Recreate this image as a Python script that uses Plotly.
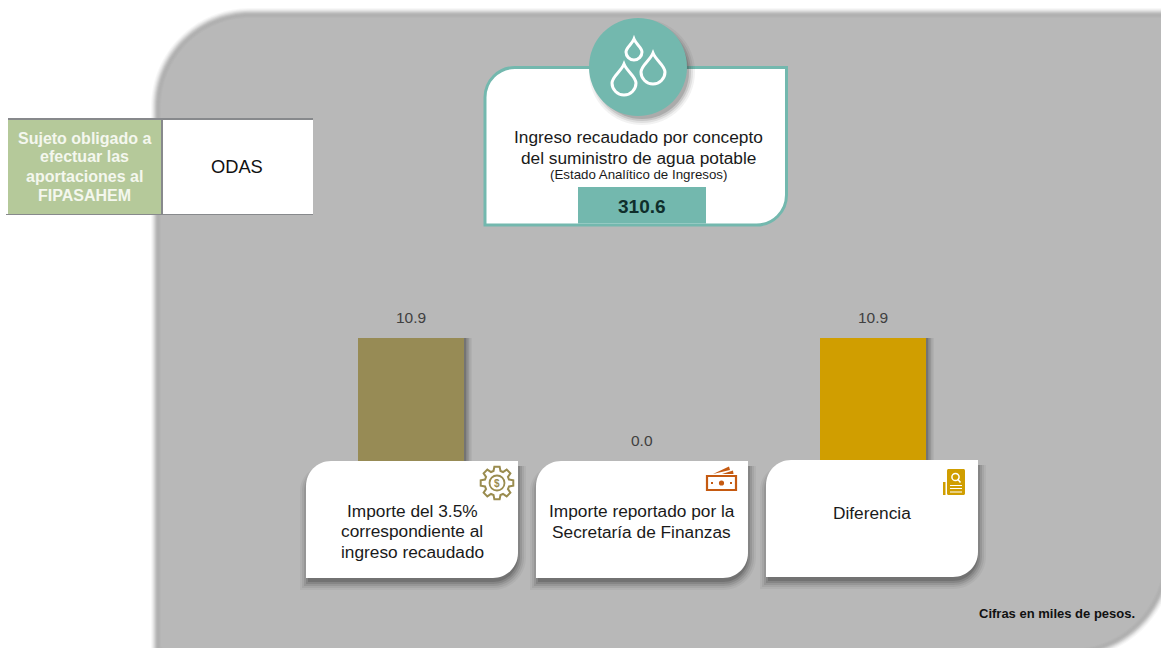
import math
import plotly.graph_objects as go

# ---- data ----
categories = ["Importe", "Reportado", "Diferencia"]
values = [10.9, 0.0, 10.9]
value_labels = ["10.9", "0.0", "10.9"]
bar_colors = ["#978b55", "#978b55", "#d09e00"]
card_labels = [["Importe del 3.5%", "correspondiente al", "ingreso recaudado"],
               ["Importe reportado por la", "Secretaría de Finanzas"],
               ["Diferencia"]]
total_value = "310.6"
total_title = ["Ingreso recaudado por concepto", "del suministro de agua potable"]
total_sub = "(Estado Analítico de Ingresos)"
table_head = ["Sujeto obligado a", "efectuar las", "aportaciones al", "FIPASAHEM"]
table_value = "ODAS"
note = "Cifras en miles de pesos."

W, H = 1161, 648
FONT = "Liberation Sans"
TEAL = "#73b8ae"

def fx(x): return x / W
def fy(y): return 1 - y / H

def path(cmds):
    out = []
    for c in cmds:
        if isinstance(c, str):
            out.append(c)
        else:
            out.append(f"{fx(c[0]):.5f},{fy(c[1]):.5f}")
    return " ".join(out)

def rrect(x0, y0, x1, y1, tl=0, tr=0, br=0, bl=0):
    k = 0.4477
    c = ["M", (x0 + tl, y0), "L", (x1 - tr, y0)]
    if tr: c += ["C", (x1 - tr * k, y0), (x1, y0 + tr * k), (x1, y0 + tr)]
    c += ["L", (x1, y1 - br)]
    if br: c += ["C", (x1, y1 - br * k), (x1 - br * k, y1), (x1 - br, y1)]
    c += ["L", (x0 + bl, y1)]
    if bl: c += ["C", (x0 + bl * k, y1), (x0, y1 - bl * k), (x0, y1 - bl)]
    c += ["L", (x0, y0 + tl)]
    if tl: c += ["C", (x0, y0 + tl * k), (x0 + tl * k, y0), (x0 + tl, y0)]
    c += ["Z"]
    return path(c)

shapes = []
def add_path(d, fill=None, line=None, lw=0, layer="above"):
    s = dict(type="path", xref="paper", yref="paper", path=d, layer=layer,
             line=dict(width=lw, color=line or "rgba(0,0,0,0)"))
    if fill: s["fillcolor"] = fill
    shapes.append(s)

def add_circle(cx, cy, r, fill=None, line=None, lw=0, layer="above"):
    s = dict(type="circle", xref="paper", yref="paper", layer=layer,
             x0=fx(cx - r), x1=fx(cx + r), y0=fy(cy + r), y1=fy(cy - r),
             line=dict(width=lw, color=line or "rgba(0,0,0,0)"))
    if fill: s["fillcolor"] = fill
    shapes.append(s)

def add_rect(x0, y0, x1, y1, fill, layer="above"):
    shapes.append(dict(type="rect", xref="paper", yref="paper", layer=layer,
                       x0=fx(x0), x1=fx(x1), y0=fy(y1), y1=fy(y0),
                       fillcolor=fill, line=dict(width=0)))

# ---- grey panel with soft edge ----
for i, col in zip([4, 3, 2, 1, 0, -1, -2, -3, -4, -5, -6],
                  ["#f8f8f8", "#efefef", "#e3e3e3", "#d5d5d5", "#c6c6c6", "#b9b9b9",
                   "#b2b2b2", "#b0b0b0", "#b2b2b2", "#b5b5b5", "#b8b8b8"]):
    add_path(rrect(155 - i, 12 - i, 1170 + i, 655 + i, tl=95 + i, br=100 + i, bl=4), fill=col, layer="below")

# ---- white cards with shadow ----
cards = [(306, 461, 518, 578), (536, 461, 748, 578), (766, 460, 978, 577)]
for x0, y0, x1, y1 in cards:
    for g, a in zip([8, 6, 4, 2, 0], [0.05, 0.08, 0.11, 0.15, 0.2]):
        add_path(rrect(x0 - g + 2, y0 + 5, x1 + g, y1 + 4 + g, tl=25, br=25 + g),
                 fill=f"rgba(40,40,40,{a})")
    add_path(rrect(x0, y0, x1, y1, tl=25, br=25), fill="#ffffff")

# ---- top card ----
add_path(rrect(485, 67.5, 786.5, 225, tl=30, br=30), fill="#ffffff", line=TEAL, lw=3)
add_rect(578, 187, 706, 223.5, TEAL)
for g, a in zip([6, 4, 2, 0], [0.06, 0.09, 0.13, 0.18]):
    add_circle(642, 72, 47 + g, fill=f"rgba(40,40,40,{a})")
add_circle(638, 67, 49, fill=TEAL)

def drop(cx, tip, cy, r):
    k = 0.5523
    return path(["M", (cx, tip),
                 "C", (cx + r * 0.25, tip + (cy - tip) * 0.4), (cx + r, cy - r * 0.55), (cx + r, cy),
                 "C", (cx + r, cy + r * k), (cx + r * k, cy + r), (cx, cy + r),
                 "C", (cx - r * k, cy + r), (cx - r, cy + r * k), (cx - r, cy),
                 "C", (cx - r, cy - r * 0.55), (cx - r * 0.25, tip + (cy - tip) * 0.4), (cx, tip), "Z"])
for args in [(634, 39, 52, 8), (653, 53, 72, 12), (624, 64, 83, 12)]:
    add_path(drop(*args), line="#ffffff", lw=3)

# ---- table ----
add_rect(8, 120, 161, 214, "#b5c99a")
add_rect(8, 118, 313, 120, "#87898c")
add_rect(6, 214, 313, 215, "#87898c")
add_rect(161, 119, 163, 214, "#87898c")
add_rect(163, 120, 313, 214, "#ffffff")

# ---- gear icon ----
OLIVE = "#9a8c4f"
gx, gy, teeth = 497, 483, 8
pts = []
for i in range(teeth):
    a = 2 * math.pi * i / teeth
    st = 2 * math.pi / teeth
    for da, r in [(-0.30, 12.5), (-0.17, 16.5), (0.17, 16.5), (0.30, 12.5)]:
        ang = a + da * st * 1.2
        pts.append((gx + r * math.cos(ang), gy + r * math.sin(ang)))
g = ["M", pts[0]]
for p in pts[1:]:
    g += ["L", p]
g += ["Z"]
add_path(path(g), line=OLIVE, lw=2)
add_circle(gx, gy, 7.5, line=OLIVE, lw=1.8)

# ---- banknote icon ----
ORANGE = "#c55a11"
add_path(rrect(707, 476, 736, 490), line=ORANGE, lw=2.2)
add_circle(721.5, 483, 2.6, fill=ORANGE)
add_rect(711, 482, 713, 484, ORANGE)
add_rect(730, 482, 732, 484, ORANGE)
add_path(path(["M", (713, 474), "L", (729, 466.5), "L", (730, 470), "Z"]), fill=ORANGE)
add_path(path(["M", (722, 474), "L", (733, 470.5), "L", (733.5, 474), "Z"]), fill=ORANGE)

# ---- document icon ----
GOLD = "#d09e00"
add_path(rrect(947, 469, 965, 495, tl=1.5, tr=1.5, br=1.5, bl=1.5), fill=GOLD)
add_rect(943, 482, 945.5, 495, GOLD)
add_circle(955.5, 477, 3.6, line="#ffffff", lw=1.5)
add_path(path(["M", (958, 479.5), "L", (960.5, 482.5)]), line="#ffffff", lw=1.5)
for yy in (485.5, 488.5, 492):
    add_path(path(["M", (950, yy), "L", (962, yy)]), line="#ffffff", lw=1)

# ---- bars drawn through the axes ----
px_unit = 231.0
bar_w = 106 / px_unit
fig = go.Figure()
for k, a in zip([8, 6.5, 5, 3.5, 2], [0.05, 0.08, 0.11, 0.14, 0.18]):
    fig.add_trace(go.Bar(x=categories, y=values, width=bar_w + k / px_unit, offset=-bar_w / 2,
                         marker=dict(color=f"rgba(40,40,40,{a})", line=dict(width=0)),
                         hoverinfo="skip", showlegend=False))
fig.add_trace(go.Bar(x=categories, y=values, width=bar_w, offset=-bar_w / 2,
                     marker=dict(color=bar_colors, line=dict(width=0)),
                     hoverinfo="skip", showlegend=False))

# ---- text ----
anns = []
def t(x, y, text, size, color="#1a1a1a", bold=False):
    anns.append(dict(xref="paper", yref="paper", x=fx(x), y=fy(y), text=f"<b>{text}</b>" if bold else text,
                     showarrow=False, xanchor="center", yanchor="middle", align="center",
                     font=dict(family=FONT, size=size, color=color)))

def lines(x, ys, rows, size, **kw):
    for y, row in zip(ys, rows):
        t(x, y, row, size, **kw)

for c, v, lab in zip(categories, values, value_labels):
    anns.append(dict(xref="x", yref="y", x=c, y=v, text=lab, showarrow=False, yshift=21,
                     xanchor="center", yanchor="middle",
                     font=dict(family=FONT, size=15.5, color="#404040")))

lines(638, [137, 158], total_title, 17.3)
t(638, 174, total_sub, 13.3)
t(641.5, 207, total_value, 19, color="#0f2e2b", bold=True)
lines(84.5, [138, 157, 176, 195], table_head, 16, color="#f4f7ee", bold=True)
t(237, 167, table_value, 18.3, color="#111111")
lines(412, [511, 531, 552], card_labels[0], 17.3)
lines(642, [511, 532], card_labels[1], 17.3)
lines(872, [513], card_labels[2], 17.3)
t(1057, 613, note, 13, color="#111111", bold=True)
anns.append(dict(xref="paper", yref="paper", x=fx(497), y=fy(483), text="<b>$</b>", showarrow=False,
                 xanchor="center", yanchor="middle", font=dict(family=FONT, size=10, color=OLIVE)))

y_unit = 123 / 10.9
x0_px, base_px = 411, 461
fig.update_layout(
    width=W, height=H, autosize=False, margin=dict(l=0, r=0, t=0, b=0, pad=0),
    paper_bgcolor="#ffffff", plot_bgcolor="rgba(0,0,0,0)", barmode="overlay",
    showlegend=False, hovermode=False, shapes=shapes, annotations=anns,
    xaxis=dict(type="category", categoryorder="array", categoryarray=categories, visible=False,
               domain=[0, 1], range=[-x0_px / px_unit, (W - x0_px) / px_unit], fixedrange=True),
    yaxis=dict(visible=False, domain=[0, 1], range=[-(H - base_px) / y_unit, base_px / y_unit], fixedrange=True),
)
fig.write_html("out.html", config=dict(displayModeBar=False),
               post_script="document.body.style.margin='0';document.body.style.overflow='hidden';")
